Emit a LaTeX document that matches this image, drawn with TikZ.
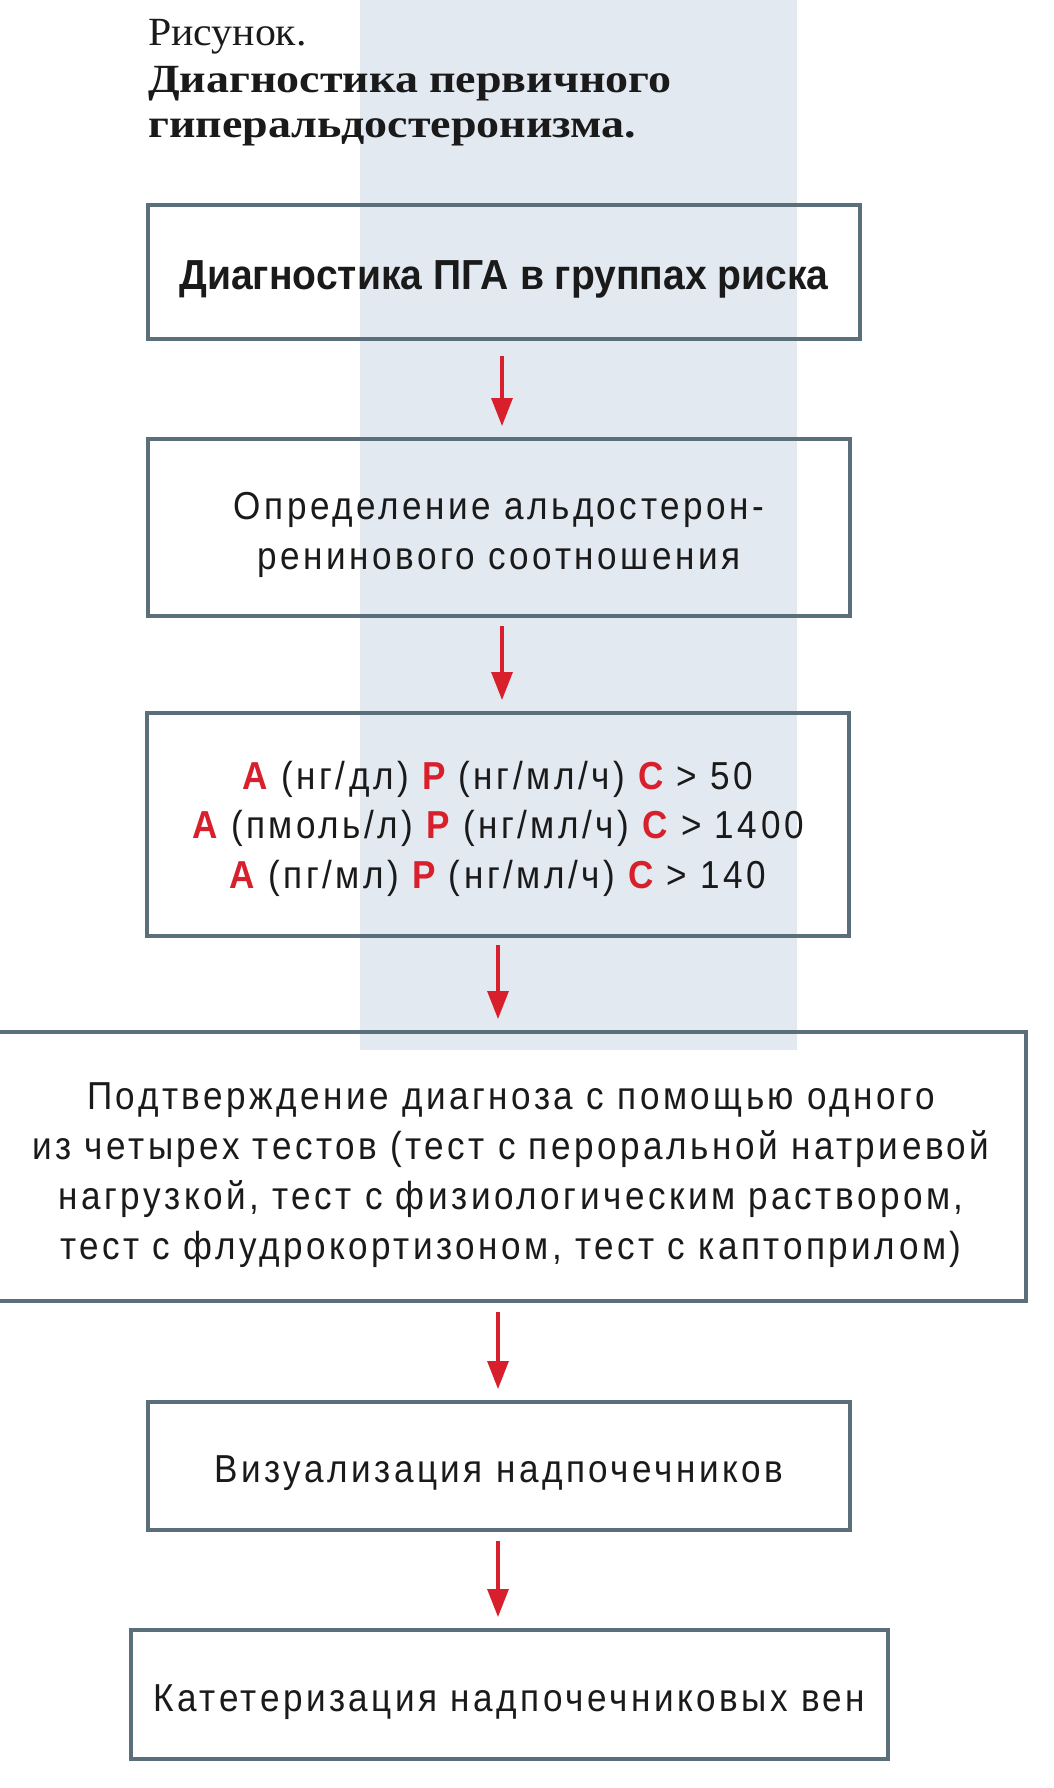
\documentclass[tikz,border=0pt]{standalone}
\usepackage{fontspec}
\setmainfont{Liberation Serif}
\newfontfamily\capfont[FakeStretch=1.045]{Liberation Serif}
\newfontfamily\capbold[FakeStretch=1.15]{Liberation Serif Bold}
\newfontfamily\cond[FakeStretch=0.9,LetterSpace=9]{Liberation Sans}
\newfontfamily\condbold[FakeStretch=0.93]{Liberation Sans Bold}
\usetikzlibrary{arrows.meta}
\definecolor{band}{HTML}{E3E9F0}
\definecolor{frame}{HTML}{5A6F7A}
\definecolor{arrred}{HTML}{D7202B}
\definecolor{ink}{HTML}{1A1A1A}
\newcommand{\rl}[1]{{\bfseries\color{arrred}#1}}
\tikzset{
  box/.style={draw=frame, line width=4pt, rectangle, inner sep=0pt},
  boxtxt/.style={inner sep=0pt, align=center, text=ink, font=\cond\fontsize{39}{50}\selectfont},
  arr/.style={draw=arrred, line width=3.2pt, -{Triangle[length=28pt,width=21pt]}},
  captxt/.style={anchor=base west, inner sep=0pt, text=ink}
}
\begin{document}
\begin{tikzpicture}[x=1pt,y=-1pt]
\useasboundingbox (0,0) rectangle (1053,1788);
\fill[band] (360,0) rectangle (797,1050);
% caption
\node[captxt, font=\capfont\fontsize{40}{45}\selectfont] (t1) at (148,45) {Рисунок.};
\node[captxt, font=\capbold\fontsize{40}{45}\selectfont] (t2) at (148,92) {Диагностика первичного};
\node[captxt, font=\capbold\fontsize{40}{45}\selectfont] (t3) at (148,137) {гиперальдостеронизма.};
% boxes
\node[box, minimum width=712pt, minimum height=134pt] (b1) at (504,272) {};
\node[boxtxt, font=\condbold\fontsize{42}{50}\selectfont] (b1t) at ([yshift=-7pt]b1.center) {Диагностика ПГА в группах риска};
\node[box, minimum width=702pt, minimum height=177pt] (b2) at (499,527.5) {};
\node[boxtxt] (b2t) at ([yshift=-7pt]b2.center) {Определение альдостерон-\\ренинового соотношения};
\node[box, minimum width=702pt, minimum height=223pt] (b3) at (498,824.5) {};
\node[boxtxt, font=\cond\fontsize{39}{49.5}\selectfont] (b3t) at ([yshift=-4pt]b3.center)
  {\rl{А} (нг/дл) \rl{Р} (нг/мл/ч) \rl{С} > 50\\
   \rl{А} (пмоль/л) \rl{Р} (нг/мл/ч) \rl{С} > 1400\\
   \rl{А} (пг/мл) \rl{Р} (нг/мл/ч) \rl{С} > 140};
\node[box, minimum width=1034pt, minimum height=269pt] (b4) at (509,1166.5) {};
\node[boxtxt] (b4t) at ([xshift=2pt,yshift=-9pt]b4.center)
  {Подтверждение диагноза с помощью одного\\
   из четырех тестов (тест с пероральной натриевой\\
   нагрузкой, тест с физиологическим раствором,\\
   тест с флудрокортизоном, тест с каптоприлом)};
\node[box, minimum width=702pt, minimum height=128pt] (b5) at (499,1466) {};
\node[boxtxt] (b5t) at ([yshift=-7pt]b5.center) {Визуализация надпочечников};
\node[box, minimum width=757pt, minimum height=129pt] (b6) at (509.5,1694.5) {};
\node[boxtxt] (b6t) at ([yshift=-8pt]b6.center) {Катетеризация надпочечниковых вен};
% arrow columns
\coordinate (ax1) at (502,0);
\coordinate (ax2) at (498,0);
\draw[arr, shorten <=15pt, shorten >=11pt] (b1.south -| ax1) -- (b2.north -| ax1);
\draw[arr, shorten <=8pt, shorten >=11pt] (b2.south -| ax1) -- (b3.north -| ax1);
\draw[arr, shorten <=7pt, shorten >=11pt] (b3.south -| ax2) -- (b4.north -| ax2);
\draw[arr, shorten <=9pt, shorten >=11pt] (b4.south -| ax2) -- (b5.north -| ax2);
\draw[arr, shorten <=9pt, shorten >=11pt] (b5.south -| ax2) -- (b6.north -| ax2);
\end{tikzpicture}
\end{document}
